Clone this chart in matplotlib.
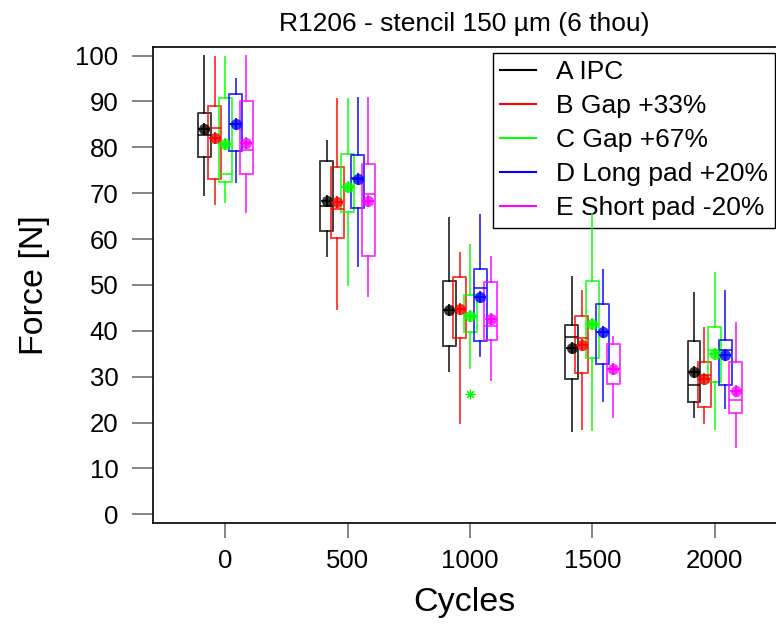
import matplotlib
matplotlib.use('Agg')
import numpy as np
import matplotlib.pyplot as plt
from matplotlib.lines import Line2D

plt.rcParams['font.family'] = ['Liberation Sans', 'DejaVu Sans']

# ============================================================
# Data
# ============================================================
cycles  = [0, 500, 1000, 1500, 2000]
labels  = ['A IPC', 'B Gap +33%', 'C Gap +67%', 'D Long pad +20%', 'E Short pad -20%']
colors  = ['#000000', '#ff0000', '#00ff00', '#0000ff', '#ff00ff']

# rows = series A..E, columns = cycles
whis_lo = [[69.6, 56.3, 31.2, 18.1, 21.3],
           [67.6, 44.8, 20.0, 18.7, 19.9],
           [68.0, 50.0, 31.8, 18.3, 18.6],
           [72.4, 54.1, 34.4, 24.6, 23.1],
           [65.9, 47.5, 29.3, 21.2, 14.6]]
q1      = [[77.8, 61.7, 36.6, 29.5, 24.4],
           [73.1, 60.3, 38.4, 30.9, 23.3],
           [72.4, 65.9, 39.7, 34.0, 28.9],
           [79.2, 66.8, 37.7, 32.8, 28.2],
           [74.2, 56.3, 38.0, 28.4, 22.1]]
med     = [[82.6, 67.2, 44.5, 38.6, 28.2],
           [84.1, 66.6, 44.8, 38.4, 30.3],
           [74.2, 71.3, 43.3, 41.5, 35.8],
           [85.0, 73.3, 49.3, 39.8, 35.8],
           [79.5, 69.9, 41.1, 31.7, 25.0]]
q3      = [[87.5, 77.0, 50.8, 41.3, 37.7],
           [88.9, 75.7, 51.8, 43.3, 33.3],
           [90.8, 78.6, 47.9, 50.9, 40.8],
           [91.7, 78.4, 53.5, 45.9, 38.0],
           [90.1, 76.4, 50.6, 37.1, 33.3]]
whis_hi = [[100.0, 81.3, 64.5, 51.7, 48.2],
           [99.7, 90.5, 56.9, 48.6, 40.5],
           [99.7, 90.5, 58.6, 65.5, 52.6],
           [94.8, 90.7, 65.2, 53.3, 48.6],
           [99.9, 90.7, 56.1, 38.7, 41.8]]
means   = [[83.9, 68.4, 44.5, 36.2, 31.1],
           [82.0, 68.0, 44.8, 37.0, 29.6],
           [80.8, 71.3, 43.3, 41.5, 34.9],
           [85.0, 73.0, 47.4, 39.8, 34.7],
           [80.9, 68.2, 42.6, 31.7, 26.8]]
# outliers: (series index, cycle index, value)
outliers = [(2, 2, 26.2)]

offsets = [-85, -43, 0, 42, 85]
box_w   = 53

# ============================================================
# Figure
# ============================================================
fig = plt.figure(figsize=(7.76, 6.28), dpi=100)
ax = fig.add_axes([153.3/776, 105/628, 1 - 153.3/776, (523 - 47.3)/628])

for s in range(len(labels)):
    col = colors[s]
    stats = []
    pos = []
    for c in range(len(cycles)):
        fl = [v for (si, ci, v) in outliers if si == s and ci == c]
        stats.append(dict(med=med[s][c], q1=q1[s][c], q3=q3[s][c],
                          whislo=whis_lo[s][c], whishi=whis_hi[s][c],
                          mean=means[s][c], fliers=fl))
        pos.append(cycles[c] + offsets[s])
    lp = dict(color=col, linewidth=1.4, alpha=0.75)
    ax.bxp(stats, positions=pos, widths=box_w, showcaps=False, showmeans=False,
           boxprops=lp, whiskerprops=lp, medianprops=lp,
           flierprops=dict(marker=(8, 2, 0), markeredgecolor=col, markersize=7,
                           markeredgewidth=0.8),
           manage_ticks=False, zorder=3)
    ax.plot(pos, means[s], 'o', color=col, markersize=8, alpha=0.8, zorder=4,
            markeredgewidth=0)
    ax.plot(pos, means[s], '+', color=col, markersize=9, markeredgewidth=1.2,
            zorder=5)

ax.set_xlim(-294, 2250)
ax.set_ylim(-1.9, 101.8)
ax.set_xticks(cycles)
ax.set_yticks(np.arange(0, 101, 10))
ax.tick_params(axis='y', length=15, width=1.2, color='#707070', labelsize=18.5, pad=10)
ax.tick_params(axis='x', length=11, width=1.2, color='#707070', labelsize=18.5, pad=8)
ax.spines['right'].set_visible(False)
for sp in ['left', 'bottom', 'top']:
    ax.spines[sp].set_linewidth(1.2)

ax.set_xlabel('Cycles', fontsize=24.5, va='center')
ax.set_ylabel('Force [N]', fontsize=24.5, va='center')
ax.xaxis.set_label_coords(0.5, -(603 - 523) / 475.7)
ax.yaxis.set_label_coords((35 - 153.3) / 622.7, 0.5)
ax.set_title('R1206 - stencil 150 µm (6 thou)', fontsize=19, pad=12)

handles = [Line2D([0], [0], color=c, linewidth=1.5) for c in colors]
leg = ax.legend(handles, labels, loc='upper left',
                bbox_to_anchor=(492.7/776, 1 - 52.7/628),
                bbox_transform=fig.transFigure, fontsize=19,
                handlelength=1.35, handletextpad=0.75, labelspacing=0.38,
                borderpad=0.28, borderaxespad=0, fancybox=False,
                edgecolor='black', framealpha=1)
leg.get_frame().set_linewidth(1.0)
leg.set_zorder(2)

plt.savefig('out.png', dpi=100)
plt.close()
